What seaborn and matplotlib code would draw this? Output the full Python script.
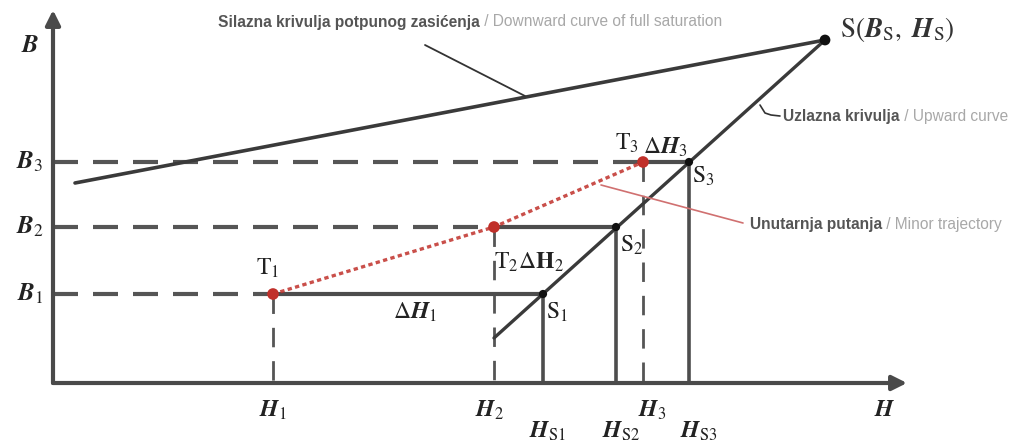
import matplotlib
matplotlib.use('Agg')
import matplotlib.pyplot as plt
import seaborn as sns
import pandas as pd

sns.set_theme(style='white')
plt.rcParams['mathtext.fontset'] = 'stix'
plt.rcParams['font.family'] = ['Liberation Sans', 'DejaVu Sans']

# ---- diagram data (H, B units; origin at the axes crossing) ----
point_ids = ['1', '2', '3']
H_T = [220, 441, 590]        # H1, H2, H3  (points T1..T3)
B_T = [89, 156, 221]         # B1, B2, B3
H_S = [490, 563, 636]        # HS1, HS2, HS3 (points S1..S3)
H_sat, B_sat = 772, 343      # S(BS, HS)
up_start_H, up_start_B = 441, 45      # start of upward curve
down_start_H, down_start_B = 22, 200  # start of downward curve
H_axis_end, B_axis_end = 854, 373

LINE = '#3a3a3a'
AXC = '#4a4a4a'
DASH = '#555555'
RED = '#c0302a'

fig = plt.figure(figsize=(10.22, 4.45), dpi=100)
ax = fig.add_axes([0, 0, 1, 1])
ax.set_xlim(-53, 969)
ax.set_ylim(-62, 383)
ax.axis('off')

# axes with arrows
ax.annotate('', xy=(0, B_axis_end), xytext=(0, 0),
            arrowprops=dict(arrowstyle='-|>', mutation_scale=22, lw=3, color=AXC,
                            shrinkA=0, shrinkB=0))
ax.annotate('', xy=(H_axis_end, 0), xytext=(0, 0),
            arrowprops=dict(arrowstyle='-|>', mutation_scale=22, lw=3, color=AXC,
                            shrinkA=0, shrinkB=0))

dash_style = (0, (6, 3.6))
# dashed horizontals from B axis to T points, dashed verticals from T down
for h, b in zip(H_T, B_T):
    sns.lineplot(x=[0, h], y=[b, b], ax=ax, color=DASH, lw=3, linestyle=dash_style,
                 sort=False, estimator=None)
    sns.lineplot(x=[h, h], y=[b, 0], ax=ax, color=DASH, lw=2, linestyle=(0, (7, 5)),
                 sort=False, estimator=None)

# solid horizontals T -> S, solid verticals S -> axis
for h, hs, b in zip(H_T, H_S, B_T):
    sns.lineplot(x=[h, hs], y=[b, b], ax=ax, color='#4d4d4d', lw=3,
                 sort=False, estimator=None)
    sns.lineplot(x=[hs, hs], y=[b, 0], ax=ax, color='#4d4d4d', lw=2.6,
                 sort=False, estimator=None)

# upward and downward curves
sns.lineplot(x=[up_start_H, H_sat], y=[up_start_B, B_sat], ax=ax, color=LINE, lw=2.4,
             sort=False, estimator=None)
sns.lineplot(x=[down_start_H, H_sat], y=[down_start_B, B_sat], ax=ax, color=LINE, lw=2.6,
             sort=False, estimator=None)

# minor trajectory (red dotted)
sns.lineplot(x=H_T, y=B_T, ax=ax, color=RED, lw=2.4, linestyle=(0, (1.3, 1.0)),
             sort=False, estimator=None, alpha=0.85)

# points
sns.scatterplot(x=H_T, y=B_T, ax=ax, color=RED, s=70, edgecolor='none', zorder=5)
sns.scatterplot(x=H_S, y=B_T, ax=ax, color='#111111', s=35, edgecolor='none', zorder=5)
sns.scatterplot(x=[H_sat], y=[B_sat], ax=ax, color='#111111', s=60, edgecolor='none', zorder=5)

# leader lines
sns.lineplot(x=[372, 472], y=[338, 287], ax=ax, color='#333333', lw=1.3,
             sort=False, estimator=None)
sns.lineplot(x=[707, 712, 718, 727], y=[278, 270, 268, 267], ax=ax, color='#333333', lw=1.2,
             sort=False, estimator=None)
sns.lineplot(x=[548, 690], y=[198, 160], ax=ax, color='#d07070', lw=1.2,
             sort=False, estimator=None)

# axis labels
lab_fs = 18
ax.text(-23, 338, r'$\mathbfit{B}$', fontsize=lab_fs, ha='center', va='center', color='#222')
for b, i in zip(B_T, point_ids):
    ax.text(-23, b, r'$\mathbfit{B}_{%s}$' % i, fontsize=lab_fs, ha='center', va='center',
            color='#222')
ax.text(832, -27, r'$\mathbfit{H}$', fontsize=17, ha='center', va='center', color='#222')
for h, i, dx in zip(H_T, point_ids, [0, -4, 9]):
    ax.text(h + dx, -27, r'$\mathbfit{H}_{%s}$' % i, fontsize=17, ha='center', va='center',
            color='#222')
for hs, i, dx in zip(H_S, point_ids, [5, 5, 10]):
    ax.text(hs + dx, -48, r'$\mathbfit{H}_{\mathrm{S}%s}$' % i, fontsize=17, ha='center',
            va='center', color='#222')

# point labels
pfs = 17
ax.text(215, 115, r'$\mathrm{T}_1$', fontsize=pfs, ha='center', va='center', color='#222')
ax.text(441, 121, r'$\mathrm{T}_2\Delta\mathbf{H}_2$', fontsize=pfs, ha='left', va='center',
        color='#222')
ax.text(574, 240, r'$\mathrm{T}_3$', fontsize=pfs, ha='center', va='center', color='#222')
ax.text(612, 236, r'$\Delta\mathbfit{H}_3$', fontsize=pfs, ha='center', va='center', color='#222')
ax.text(504, 71, r'$\mathrm{S}_1$', fontsize=pfs, ha='center', va='center', color='#222')
ax.text(579, 138, r'$\mathrm{S}_2$', fontsize=pfs, ha='center', va='center', color='#222')
ax.text(650, 207, r'$\mathrm{S}_3$', fontsize=pfs, ha='center', va='center', color='#222')
ax.text(362, 71, r'$\Delta\mathbfit{H}_1$', fontsize=pfs, ha='center', va='center', color='#222')
ax.text(787, 353, r'$\mathrm{S}(\mathbfit{B}_\mathrm{S},\ \mathbfit{H}_\mathrm{S})$', fontsize=19.5,
        ha='left', va='center', color='#333')

# annotation texts (two-tone)
fig.canvas.draw()
renderer = fig.canvas.get_renderer()
ann = [
    (165, 361, 'Silazna krivulja potpunog zasićenja', ' / Downward curve of full saturation'),
    (730, 266, 'Uzlazna krivulja', ' / Upward curve'),
    (697, 159, 'Unutarnja putanja', ' / Minor trajectory'),
]
for x, y, hr, en in ann:
    t1 = ax.text(x, y, hr, fontsize=11.2, ha='left', va='center', color='#555555',
                 fontweight='bold')
    bb = t1.get_window_extent(renderer=renderer)
    x2 = ax.transData.inverted().transform((bb.x1, bb.y0))[0]
    ax.text(x2, y, en, fontsize=11.2, ha='left', va='center', color='#a8a8a8')

fig.savefig('out.png', dpi=100, facecolor='white')
